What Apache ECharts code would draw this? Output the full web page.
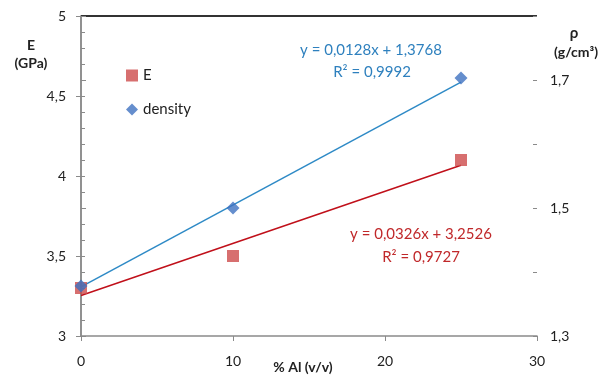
<!DOCTYPE html>
<html><head><meta charset="utf-8">
<script src="https://cdn.jsdelivr.net/npm/echarts@6/dist/echarts.min.js"></script>
<style>html,body{margin:0;padding:0;background:#fff}#c{width:607px;height:376px}</style>
</head><body><div id="c"></div>
<script>
const FONT = 'Lato, "Open Sans", sans-serif';
const xE = [0, 10, 25];
const valE = [3.3, 3.5, 4.1];
const xDensity = [0, 10, 25];
const valDensity = [1.378, 1.5, 1.703];
const trendE = [[0, 3.2526], [25, 4.0676]];
const trendDensity = [[0, 1.3768], [25, 1.6968]];
const eqDensity = ['y = 0,0128x + 1,3768', 'R² = 0,9992'];
const eqE = ['y = 0,0326x + 3,2526', 'R² = 0,9727'];
const xTicks = [0, 10, 20, 30];
const rightTicks = [1.3, 1.5, 1.7];
const xTitle = '% Al (v/v)';

const chart = echarts.init(document.getElementById('c'));
const fmt = v => String(Math.round(v * 10) / 10).replace('.', ',');
const AX = '#8a8a8a';
const TXT = '#222';
chart.setOption({
  animation: false,
  textStyle: { fontFamily: FONT },
  grid: { left: 81, right: 70, top: 16, bottom: 40, outerBoundsMode: 'none', containLabel: false },
  legend: {
    orient: 'vertical', left: 121, top: 63, itemGap: 19,
    itemWidth: 12, itemHeight: 12,
    textStyle: { fontFamily: FONT, fontSize: 15, color: TXT },
    data: [{ name: 'E', icon: 'rect' }, { name: 'density', icon: 'diamond' }]
  },
  xAxis: [{
    type: 'value', min: 0, max: 30, interval: 10,
    axisLine: { lineStyle: { color: AX, width: 1.5 } },
    axisTick: { length: 5, lineStyle: { color: AX } },
    axisLabel: { fontFamily: FONT, fontSize: 14, color: TXT, margin: 18, formatter: v => xTicks.includes(v) ? String(v) : '' },
    splitLine: { show: false }
  }, {
    type: 'value', min: 0, max: 30, position: 'top',
    axisLine: { show: true, lineStyle: { color: '#333', width: 2, cap: 'butt' } },
    axisTick: { show: false }, axisLabel: { show: false }, splitLine: { show: false }
  }],
  yAxis: [{
    type: 'value', min: 3, max: 5, interval: 0.5,
    axisLine: { show: true, lineStyle: { color: AX, width: 1.5 } },
    axisTick: { show: true, length: 5, lineStyle: { color: AX } },
    axisLabel: { fontFamily: FONT, fontSize: 14, color: TXT, margin: 15, formatter: fmt },
    splitLine: { show: false }
  }, {
    type: 'value', min: 1.3, max: 1.8, interval: 0.2, position: 'right',
    axisLine: { show: true, lineStyle: { color: AX, width: 1.5 } },
    axisTick: { show: true, length: 5, lineStyle: { color: AX } },
    axisLabel: { fontFamily: FONT, fontSize: 14, color: TXT, margin: 13,
      formatter: v => rightTicks.some(t => Math.abs(t - v) < 1e-6) ? fmt(v) : '' },
    splitLine: { show: false }
  }, {
    type: 'value', min: 3, max: 5, interval: 0.1, position: 'left',
    axisLine: { show: false },
    axisTick: { show: true, inside: true, length: 4, lineStyle: { color: AX } },
    axisLabel: { show: false }, splitLine: { show: false }
  }, {
    type: 'value', min: 1.3, max: 1.8, interval: 0.1, position: 'right',
    axisLine: { show: false },
    axisTick: { show: true, inside: true, length: 4, lineStyle: { color: AX } },
    axisLabel: { show: false }, splitLine: { show: false }
  }],
  graphic: [
    { type: 'text', x: 303, y: 367, style: { text: xTitle, font: 'bold 14px ' + FONT, fill: TXT, textAlign: 'center', textVerticalAlign: 'middle' } },
    { type: 'text', x: 31, y: 45, style: { text: 'E', font: 'bold 14px ' + FONT, fill: TXT, textAlign: 'center', textVerticalAlign: 'middle' } },
    { type: 'text', x: 31, y: 63, style: { text: '(GPa)', font: 'bold 14px ' + FONT, fill: TXT, textAlign: 'center', textVerticalAlign: 'middle' } },
    { type: 'text', x: 574, y: 33, style: { text: 'ρ', font: 'bold 15px ' + FONT, fill: TXT, textAlign: 'center', textVerticalAlign: 'middle' } },
    { type: 'text', x: 576, y: 52, style: { text: '(g/cm³)', font: 'bold 14px ' + FONT, fill: TXT, textAlign: 'center', textVerticalAlign: 'middle' } },
    { type: 'text', x: 371, y: 50, style: { text: eqDensity[0], font: '15px ' + FONT, fill: '#2E80BE', textAlign: 'center', textVerticalAlign: 'middle' } },
    { type: 'text', x: 372, y: 72, style: { text: eqDensity[1], font: '15px ' + FONT, fill: '#2E80BE', textAlign: 'center', textVerticalAlign: 'middle' } },
    { type: 'text', x: 421, y: 234, style: { text: eqE[0], font: '15px ' + FONT, fill: '#C0282A', textAlign: 'center', textVerticalAlign: 'middle' } },
    { type: 'text', x: 421, y: 257, style: { text: eqE[1], font: '15px ' + FONT, fill: '#C0282A', textAlign: 'center', textVerticalAlign: 'middle' } }
  ],
  series: [
    { name: 'trendE', type: 'line', data: trendE, yAxisIndex: 0, showSymbol: false,
      lineStyle: { color: '#C0101A', width: 1.5 }, z: 2, silent: true },
    { name: 'trendDensity', type: 'line', data: trendDensity, yAxisIndex: 1, showSymbol: false,
      lineStyle: { color: '#2E8AC6', width: 1.5 }, z: 2, silent: true },
    { name: 'E', type: 'scatter', yAxisIndex: 0, symbol: 'rect', symbolSize: 12,
      itemStyle: { color: '#CD4B4B' }, data: xE.map((x, i) => [x, valE[i]]), z: 3 },
    { name: 'density', type: 'scatter', yAxisIndex: 1, symbol: 'diamond', symbolSize: 13,
      itemStyle: { color: '#3F72C0' }, data: xDensity.map((x, i) => [x, valDensity[i]]), z: 4 }
  ]
});
</script></body></html>
